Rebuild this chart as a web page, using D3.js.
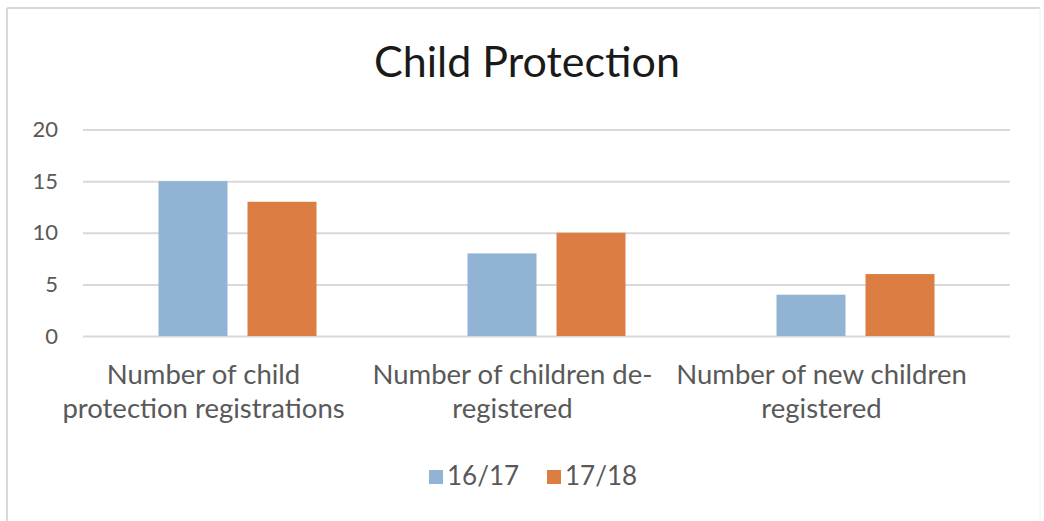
<!DOCTYPE html>
<html>
<head>
<meta charset="utf-8">
<script src="https://cdn.jsdelivr.net/npm/d3@7"></script>
<style>
  html, body { margin: 0; padding: 0; background: #fff; }
  svg { display: block; }
  text { font-family: Lato, "Open Sans", "Liberation Sans", sans-serif; }
</style>
</head>
<body>
<svg id="chart" width="1044" height="521"></svg>
<script>
// Child protection figures by year
const categories = [
  ["Number of child", "protection registrations"],
  ["Number of children de-", "registered"],
  ["Number of new children", "registered"]
];
const seriesNames = ["16/17", "17/18"];
const values1617 = [15, 8, 4];
const values1718 = [13, 10, 6];
const yTicks = [0, 5, 10, 15, 20];
const colors = ["#92b4d4", "#dc7e44"];

const W = 1044, H = 521;
const svg = d3.select("#chart");

// Frame edges
svg.append("line").attr("x1", 7).attr("x2", 1040).attr("y1", 8).attr("y2", 8)
  .attr("stroke", "#d9d9d9").attr("stroke-width", 2);
svg.append("line").attr("x1", 7).attr("x2", 7).attr("y1", 8).attr("y2", H)
  .attr("stroke", "#d9d9d9").attr("stroke-width", 2);
svg.append("line").attr("x1", 1040).attr("x2", 1040).attr("y1", 8).attr("y2", H)
  .attr("stroke", "#f0f0f0").attr("stroke-width", 1);

const plot = { left: 83, right: 1010, top: 129.5, bottom: 336 };

const keys = categories.map(c => c.join(" "));
const x0 = d3.scaleBand().domain(keys).range([plot.left, plot.right]).padding(0);
const pairHalf = 79;
const x1 = d3.scaleBand().domain(seriesNames)
  .range([x0.bandwidth() / 2 - pairHalf, x0.bandwidth() / 2 + pairHalf])
  .paddingInner(20 / 89).paddingOuter(0);
const y = d3.scaleLinear().domain([0, 20]).range([plot.bottom, plot.top]);

// Gridlines + tick labels
const yAxis = d3.axisLeft(y).tickValues(yTicks)
  .tickSize(-(plot.right - plot.left)).tickPadding(25);
const gy = svg.append("g").attr("transform", `translate(${plot.left},0)`).call(yAxis);
gy.select(".domain").remove();
gy.selectAll(".tick line").attr("stroke", "#d9d9d9").attr("stroke-width", 2);
gy.selectAll(".tick text").attr("fill", "#595959").attr("font-size", 22)
  .attr("font-family", "Lato, 'Open Sans', sans-serif");

// Bars
const rows = keys.map((k, i) => ({ key: k, vals: [values1617[i], values1718[i]] }));
const groups = svg.append("g").selectAll("g").data(rows).join("g")
  .attr("transform", d => `translate(${x0(d.key)},0)`);
groups.selectAll("rect").data(d => d.vals.map((v, j) => ({ s: seriesNames[j], v, j })))
  .join("rect")
  .attr("x", d => x1(d.s))
  .attr("width", x1.bandwidth())
  .attr("y", d => y(d.v))
  .attr("height", d => y(0) - y(d.v))
  .attr("fill", d => colors[d.j]);

// Category labels (two lines each)
const labelShift = -34;
const cat = svg.append("g").selectAll("text").data(categories).join("text")
  .attr("text-anchor", "middle")
  .attr("fill", "#595959")
  .attr("font-size", 27.5)
  .attr("transform", (d, i) => `translate(${x0(keys[i]) + x0.bandwidth() / 2 + labelShift},0)`);
cat.selectAll("tspan").data(d => d).join("tspan")
  .attr("x", 0)
  .attr("y", (d, i) => 384 + i * 34)
  .text(d => d);

// Title
svg.append("text").attr("x", 527).attr("y", 77).attr("text-anchor", "middle")
  .attr("font-size", 43).attr("fill", "#1a1a1a").text("Child Protection");

// Legend
const legend = svg.append("g");
const legendItems = [{ name: seriesNames[0], x: 429 }, { name: seriesNames[1], x: 547 }];
legendItems.forEach((d, i) => {
  legend.append("rect").attr("x", d.x).attr("y", 470).attr("width", 14).attr("height", 14)
    .attr("fill", colors[i]);
  legend.append("text").attr("x", d.x + 18).attr("y", 485)
    .attr("font-size", 26).attr("fill", "#595959").text(d.name);
});
</script>
</body>
</html>
